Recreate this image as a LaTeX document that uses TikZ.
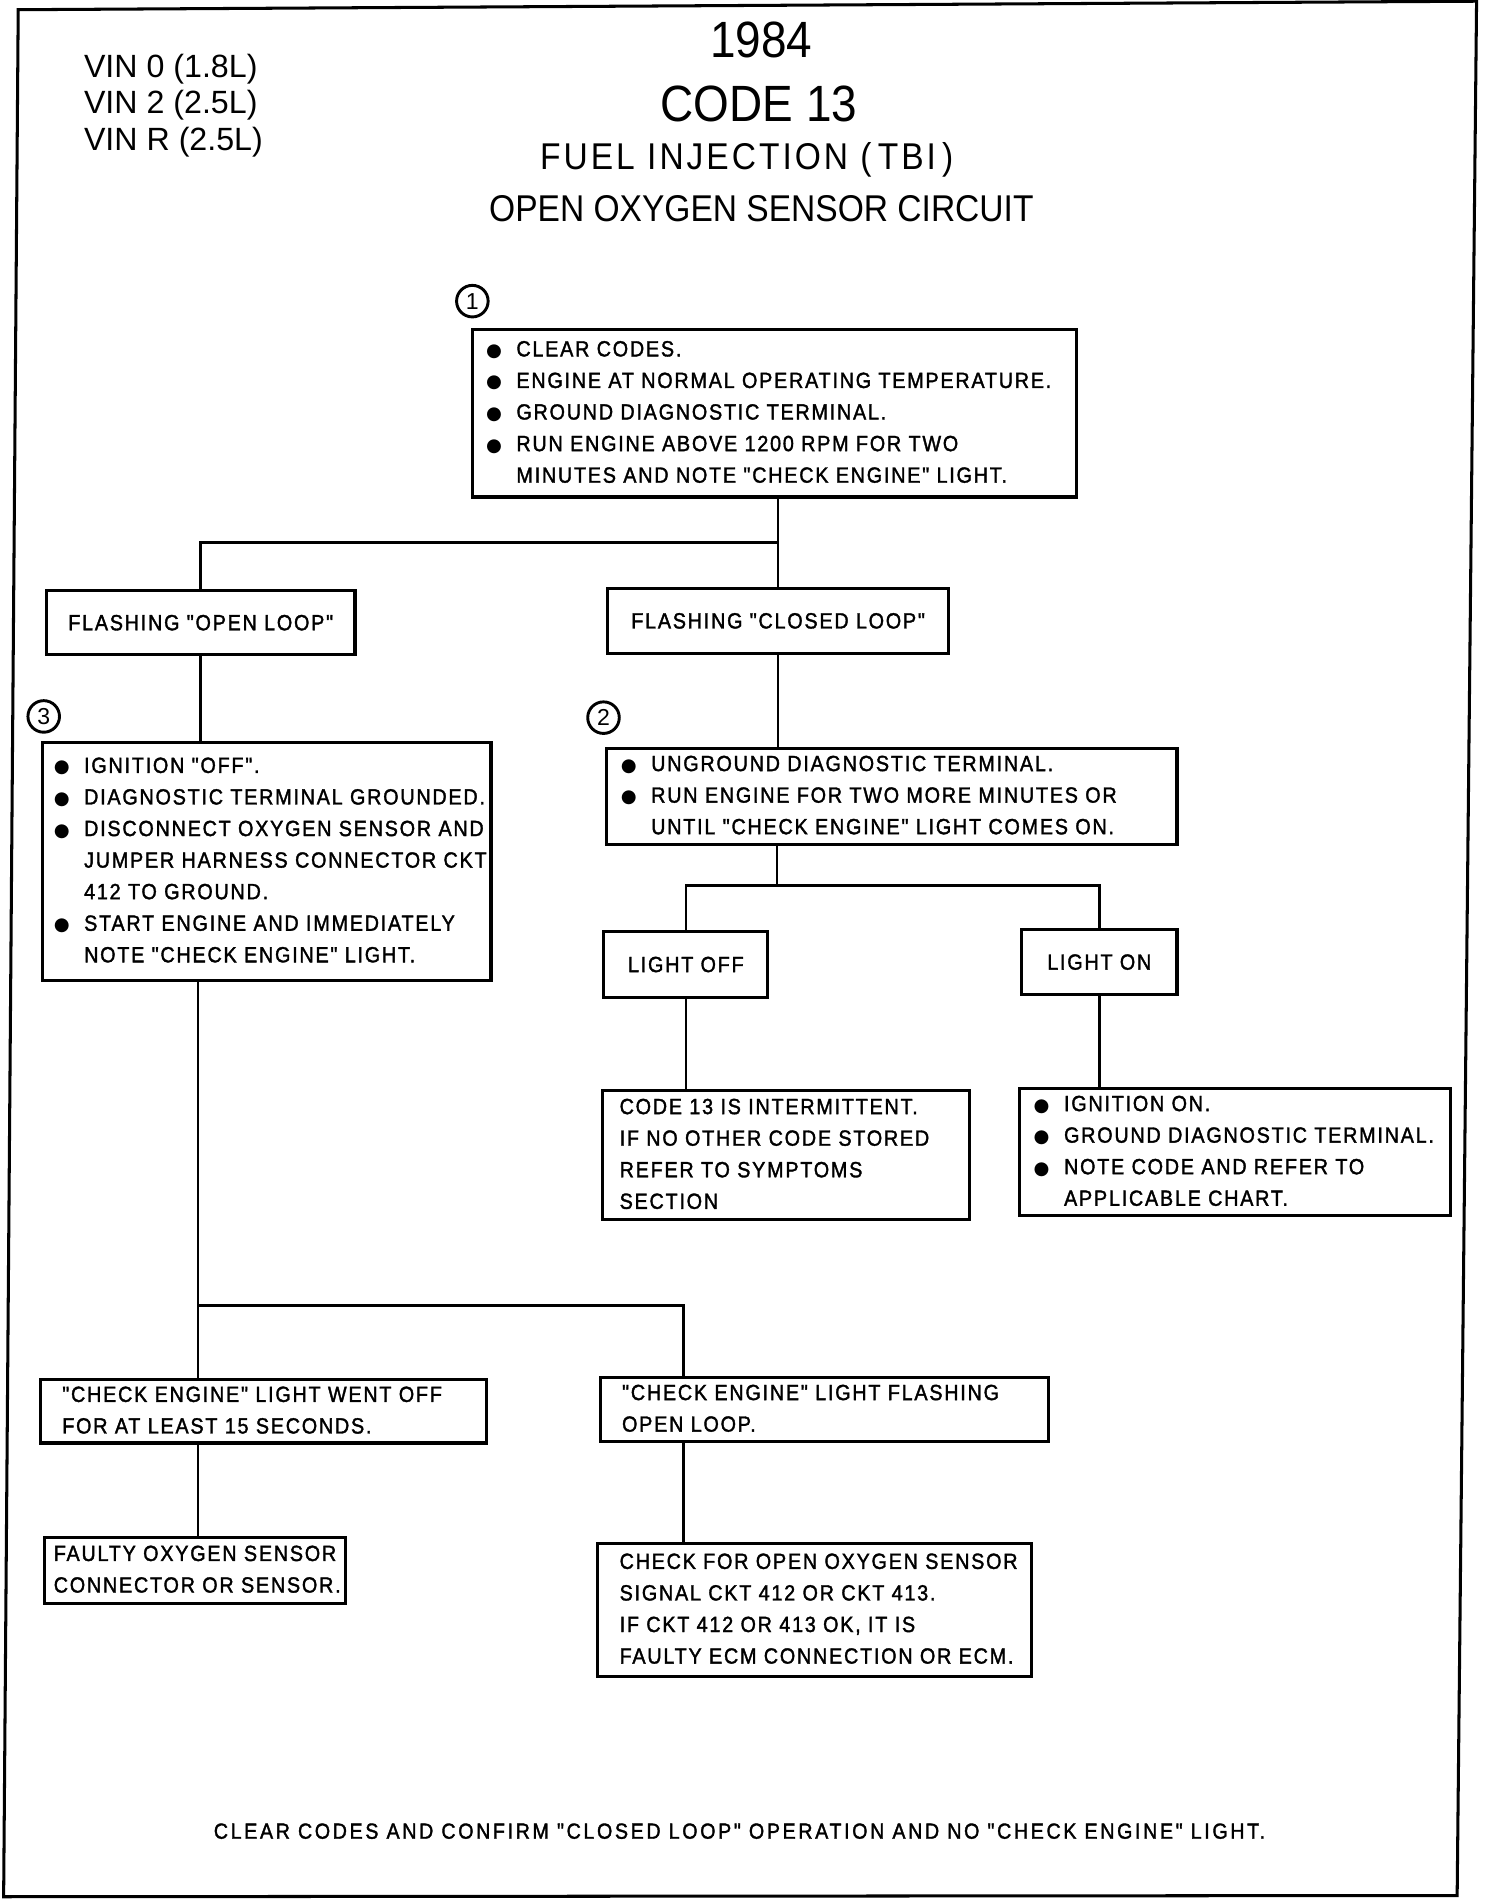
\documentclass[tikz,border=0pt]{standalone}
\usepackage{fontspec}
\setmainfont{Liberation Sans}
\newfontfamily\chartfont[FakeBold=1.6, FakeStretch=0.9, LetterSpace=8]{Liberation Sans}
\newfontfamily\headfont[FakeStretch=0.9]{Liberation Sans}
\newfontfamily\dotfont{DejaVu Sans}
\newcommand\blt{\makebox[25pt][l]{\dotfont\fontsize{15}{15}\selectfont ●}}
\newcommand\ind{\hspace*{25pt}}
\newcommand\rows[1]{\begin{tabular}{@{}l@{}}#1\end{tabular}}
\tikzset{
  chartbox/.style={draw, line width=2.6pt, inner ysep=0pt, align=left, anchor=north west,
    font=\chartfont\fontsize{18.1}{26}\selectfont},
  tagbox/.style={draw, line width=2.6pt, inner sep=0pt, anchor=north west,
    font=\chartfont\fontsize{18.1}{26}\selectfont},
  link/.style={line width=2.2pt},
  numcirc/.style={draw, circle, line width=2.4pt, minimum size=26pt, inner sep=0pt,
    font=\fontsize{19}{19}\selectfont},
  headline/.style={font=\headfont\fontsize{#1}{#1}\selectfont, inner sep=0pt}
}
\begin{document}
\begin{tikzpicture}[x=1pt,y=-1pt]
\useasboundingbox (0,0) rectangle (1239,1568);
\draw[line width=2.5pt] (15,8) -- (1216,1) -- (1200,1561) -- (3,1562) -- cycle;

% heading
\node[anchor=west, align=left, inner sep=0pt, font=\fontsize{26.5}{30}\selectfont] (vin) at (69,87)
  {VIN 0 (1.8L)\\VIN 2 (2.5L)\\VIN R (2.5L)};
\node[headline=42] (year) at (627,33) {1984};
\node[headline=42] (code) at (625,86) {CODE 13};
\node[headline=30.7] (system) at (615,132) {\addfontfeature{LetterSpace=8}FUEL INJECTION (\,TBI\,)};
\node[headline=30.7] (title) at (627,172) {OPEN OXYGEN SENSOR CIRCUIT};

% boxes
\node[numcirc] (n1) at (389,248) {1};
\node[chartbox, text width=475pt, inner xsep=11pt, minimum height=138pt] (start) at (388,270)
  {\rows{\blt CLEAR CODES.\\ \blt ENGINE AT NORMAL OPERATING TEMPERATURE.\\
   \blt GROUND DIAGNOSTIC TERMINAL.\\ \blt RUN ENGINE ABOVE 1200 RPM FOR TWO\\
   \ind MINUTES AND NOTE "CHECK ENGINE" LIGHT.}};
\node[tagbox, minimum width=254pt, minimum height=53pt] (openloop) at (37,485) {FLASHING "OPEN LOOP"};
\node[tagbox, minimum width=281pt, minimum height=54pt] (closed) at (499,483) {FLASHING "CLOSED LOOP"};
\node[numcirc] (n3) at (36,590) {3};
\node[chartbox, text width=351pt, inner xsep=9pt, minimum height=196pt] (step3) at (34,610)
  {\rows{\blt IGNITION "OFF".\\ \blt DIAGNOSTIC TERMINAL GROUNDED.\\
   \blt DISCONNECT OXYGEN SENSOR AND\\ \ind JUMPER HARNESS CONNECTOR CKT\\
   \ind 412 TO GROUND.\\ \blt START ENGINE AND IMMEDIATELY\\ \ind NOTE "CHECK ENGINE" LIGHT.}};
\node[numcirc] (n2) at (497,591) {2};
\node[chartbox, text width=446pt, inner xsep=12pt, minimum height=79pt] (step2) at (498,615)
  {\rows{\blt UNGROUND DIAGNOSTIC TERMINAL.\\ \blt RUN ENGINE FOR TWO MORE MINUTES OR\\
   \ind UNTIL "CHECK ENGINE" LIGHT COMES ON.}};
\node[tagbox, minimum width=135pt, minimum height=54pt] (lightoff) at (496,766) {LIGHT OFF};
\node[tagbox, minimum width=128pt, minimum height=54pt] (lighton) at (840,764) {LIGHT ON};
\node[chartbox, text width=274pt, inner xsep=14pt, minimum height=106pt] (intermit) at (495,897)
  {\rows{CODE 13 IS INTERMITTENT.\\ IF NO OTHER CODE STORED\\ REFER TO SYMPTOMS\\ SECTION}};
\node[chartbox, text width=331pt, inner xsep=12pt, minimum height=105pt] (ignon) at (838,895)
  {\rows{\blt IGNITION ON.\\ \blt GROUND DIAGNOSTIC TERMINAL.\\ \blt NOTE CODE AND REFER TO\\
   \ind APPLICABLE CHART.}};
\node[chartbox, text width=331pt, inner xsep=18pt, minimum height=52pt] (wentoff) at (32,1135)
  {\rows{"CHECK ENGINE" LIGHT WENT OFF\\ FOR AT LEAST 15 SECONDS.}};
\node[chartbox, text width=333pt, inner xsep=18pt, minimum height=53pt] (flashol) at (493,1133)
  {\rows{"CHECK ENGINE" LIGHT FLASHING\\ OPEN LOOP.}};
\node[chartbox, text width=232pt, inner xsep=8pt, minimum height=54pt] (faulty) at (35,1265)
  {\rows{FAULTY OXYGEN SENSOR\\ CONNECTOR OR SENSOR.}};
\node[chartbox, text width=321pt, inner xsep=18pt, minimum height=109pt] (checkopen) at (491,1270)
  {\rows{CHECK FOR OPEN OXYGEN SENSOR\\ SIGNAL CKT 412 OR CKT 413.\\
   IF CKT 412 OR 413 OK, IT IS\\ FAULTY ECM CONNECTION OR ECM.}};
\node[font=\chartfont\fontsize{18}{18}\selectfont\addfontfeature{LetterSpace=12}] (confirm) at (609,1508)
  {CLEAR CODES AND CONFIRM "CLOSED LOOP" OPERATION AND NO "CHECK ENGINE" LIGHT.};

% connectors
\coordinate (fork1) at (640,447);
\coordinate (fork2) at (640,729);
\coordinate (fork3) at (163,1075);
\coordinate (drop3) at (563,1075);
\draw[link] (start.south -| closed.north) -- (closed.north);
\draw[link] (fork1) -| (openloop.north);
\draw[link] (openloop.south) -- (openloop.south |- step3.north);
\draw[link] (closed.south) -- (closed.south |- step2.north);
\draw[link] (step2.south -| fork2) -- (fork2);
\draw[link] (lightoff.north) |- (fork2) -| (lighton.north);
\draw[link] (lightoff.south) -- (lightoff.south |- intermit.north);
\draw[link] (lighton.south) -- (lighton.south |- ignon.north);
\draw[link] (step3.south -| fork3) -- (fork3) -- (fork3 |- wentoff.north);
\draw[link] (fork3) -- (drop3) -- (drop3 |- flashol.north);
\draw[link] (wentoff.south -| fork3) -- (fork3 |- faulty.north);
\draw[link] (flashol.south -| drop3) -- (drop3 |- checkopen.north);
\end{tikzpicture}
\end{document}
